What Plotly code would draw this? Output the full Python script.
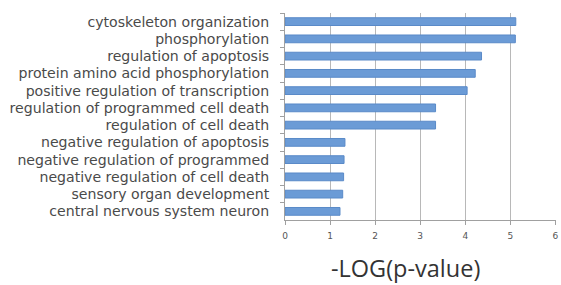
import plotly.graph_objects as go

terms = [
    "cytoskeleton organization",
    "phosphorylation",
    "regulation of apoptosis",
    "protein amino acid phosphorylation",
    "positive regulation of transcription",
    "regulation of programmed cell death",
    "regulation of cell death",
    "negative regulation of apoptosis",
    "negative regulation of programmed",
    "negative regulation of cell death",
    "sensory organ development",
    "central nervous system neuron",
]
neg_log_p = [5.12, 5.11, 4.36, 4.22, 4.04, 3.34, 3.34, 1.33, 1.31, 1.30, 1.28, 1.22]
x_ticks = [0, 1, 2, 3, 4, 5, 6]
x_title = "-LOG(p-value)"

fig = go.Figure(
    go.Bar(
        x=neg_log_p,
        y=terms,
        orientation="h",
        marker=dict(color="#6b9bd6", line=dict(color="#5a8ac8", width=1)),
        width=0.45,
    )
)

fig.update_layout(
    width=561,
    height=285,
    margin=dict(l=285, r=5, t=13, b=65, autoexpand=False),
    paper_bgcolor="white",
    plot_bgcolor="white",
    showlegend=False,
    font=dict(family="DejaVu Sans", size=10, color="#333333"),
)

fig.update_xaxes(
    range=[0, 6.012],
    tickvals=x_ticks,
    showgrid=True,
    gridcolor="#b8b8b8",
    gridwidth=1,
    showline=True,
    linecolor="#a0a0a0",
    ticks="outside",
    ticklen=4,
    tickcolor="#a0a0a0",
    tickfont=dict(size=9, color="#555555"),
    ticklabelstandoff=3,
    ticklabeloverflow="allow",
    zeroline=False,
    fixedrange=True,
)

fig.update_yaxes(
    autorange="reversed",
    type="category",
    showline=True,
    linecolor="#a0a0a0",
    ticks="outside",
    tickson="boundaries",
    ticklen=4,
    tickcolor="#a0a0a0",
    tickfont=dict(size=14.1, color="#4a4a4a"),
    ticklabelstandoff=12,
    showgrid=False,
    fixedrange=True,
)

fig.add_annotation(
    text=x_title,
    xref="paper",
    yref="paper",
    x=0.446,
    y=0,
    yshift=-30,
    xanchor="center",
    yanchor="top",
    showarrow=False,
    font=dict(family="Open Sans", size=23.5, color="#333333"),
)

fig.write_html(
    "out.html",
    config={"displayModeBar": False},
    post_script="document.body.style.margin='0';document.body.style.overflow='hidden';",
)
